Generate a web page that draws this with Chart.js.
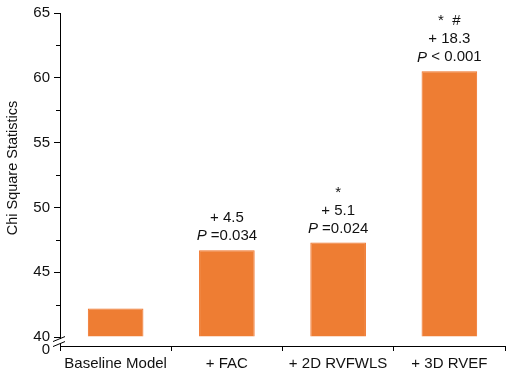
<!doctype html>
<html lang="en">
  <head>
    <meta charset="utf-8" />
    <title>Chi Square Statistics</title>
    <style>
      html,
      body {
        margin: 0;
        padding: 0;
        background: #fff;
        overflow: hidden;
      }
    </style>
    <script src="https://cdn.jsdelivr.net/npm/chart.js@4/dist/chart.umd.min.js"></script>
  </head>
  <body>
    <canvas id="chiChart" width="510" height="376"></canvas>
    <script>
      // data
      const models = ["Baseline Model", "+ FAC", "+ 2D RVFWLS", "+ 3D RVEF"];
      const chiSquare = [42.2, 46.7, 47.3, 60.5];
      const deltas = ["", "+ 4.5", "+ 5.1", "+ 18.3"];
      const pValues = ["", " =0.034", " =0.024", " < 0.001"];
      const marks = ["", "", "*", "*  #"];
      const yMajorTicks = [40, 45, 50, 55, 60, 65];
      const yMinorTicks = [42.5, 47.5, 52.5, 57.5, 62.5];
      const yBreakLabel = "0";
      const yTitle = "Chi Square Statistics";

      const FONT = "'Liberation Sans', Arial, sans-serif";
      const orange = "#ee7d33";

      const overlay = {
        id: "overlay",
        afterDraw(chart) {
          const { ctx, chartArea } = chart;
          const y = chart.scales.y;
          const left = chartArea.left;
          ctx.save();

          // minor ticks on the y axis
          ctx.strokeStyle = "#000";
          ctx.lineWidth = 1;
          yMinorTicks.forEach((v) => {
            const py = Math.round(y.getPixelForValue(v)) + 0.5;
            ctx.beginPath();
            ctx.moveTo(left - 4, py);
            ctx.lineTo(left, py);
            ctx.stroke();
          });

          // axis break between 40 and 0
          const y40 = y.getPixelForValue(40);
          ctx.fillStyle = "#fff";
          ctx.fillRect(left - 2, y40 + 2, 4, 4);
          ctx.beginPath();
          ctx.moveTo(left - 7, y40 + 4.5);
          ctx.lineTo(left + 5, y40 - 0.5);
          ctx.moveTo(left - 7, y40 + 9.5);
          ctx.lineTo(left + 5, y40 + 4.5);
          ctx.stroke();

          // "0" label at the axis origin
          ctx.fillStyle = "#111";
          ctx.font = "15px " + FONT;
          ctx.textAlign = "right";
          ctx.textBaseline = "middle";
          ctx.fillText(yBreakLabel, left - 10, chartArea.bottom + 4);

          // y axis title
          ctx.save();
          ctx.translate(13, 168);
          ctx.rotate(-Math.PI / 2);
          ctx.textAlign = "center";
          ctx.font = "14.5px " + FONT;
          ctx.fillText(yTitle, 0, 0);
          ctx.restore();

          // annotations over the bars
          const meta = chart.getDatasetMeta(0);
          meta.data.forEach((bar, i) => {
            const x = bar.x;
            const top = bar.y;
            ctx.textAlign = "left";
            ctx.textBaseline = "middle";
            if (pValues[i]) {
              ctx.font = "italic 15px " + FONT;
              const wP = ctx.measureText("P").width;
              ctx.font = "15px " + FONT;
              const wR = ctx.measureText(pValues[i]).width;
              const x0 = x - (wP + wR) / 2;
              ctx.font = "italic 15px " + FONT;
              ctx.fillText("P", x0, top - 14);
              ctx.font = "15px " + FONT;
              ctx.fillText(pValues[i], x0 + wP, top - 14);
            }
            ctx.textAlign = "center";
            ctx.font = "15px " + FONT;
            if (deltas[i]) ctx.fillText(deltas[i], x, top - 32);
            if (marks[i]) ctx.fillText(marks[i], x, top - 50);
          });

          ctx.restore();
        }
      };

      new Chart(document.getElementById("chiChart"), {
        type: "bar",
        data: {
          labels: models,
          datasets: [
            {
              data: chiSquare,
              base: 40,
              backgroundColor: orange,
              borderColor: "#f07024",
              borderWidth: 1,
              barPercentage: 0.5,
              categoryPercentage: 1
            }
          ]
        },
        options: {
          responsive: false,
          animation: false,
          devicePixelRatio: 1,
          layout: { padding: { top: 10, right: 5, left: 0, bottom: 0 } },
          plugins: {
            legend: { display: false },
            tooltip: { enabled: false }
          },
          scales: {
            x: {
              grid: {
                drawOnChartArea: false,
                offset: true,
                color: "#000",
                tickLength: 5
              },
              border: { color: "#000", width: 1 },
              ticks: {
                color: "#111",
                font: { family: FONT, size: 15 },
                padding: 4,
                maxRotation: 0
              },
              afterFit: (scale) => {
                scale.height = 30;
              }
            },
            y: {
              min: 39.31,
              max: 65,
              afterBuildTicks: (scale) => {
                scale.ticks = yMajorTicks.map((v) => ({ value: v }));
              },
              grid: {
                drawOnChartArea: false,
                color: "#000",
                tickLength: 6
              },
              border: { color: "#000", width: 1 },
              ticks: {
                color: "#111",
                font: { family: FONT, size: 15 },
                padding: 4,
                callback: (v) => v
              },
              afterFit: (scale) => {
                scale.width = 60;
              }
            }
          }
        },
        plugins: [overlay]
      });
    </script>
  </body>
</html>
